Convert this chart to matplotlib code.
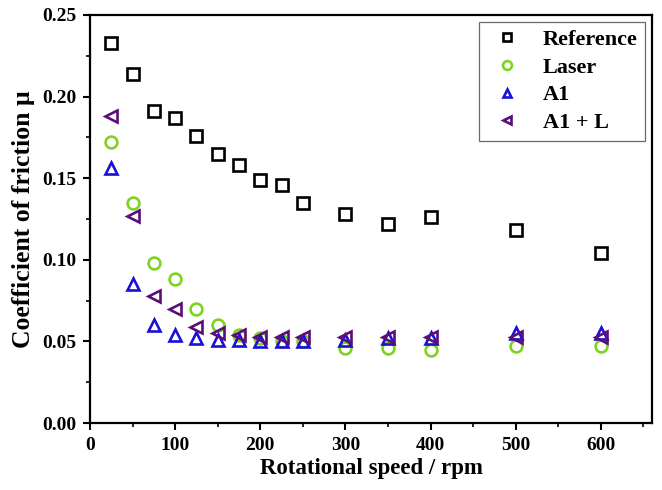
import matplotlib
matplotlib.use("Agg")
import matplotlib.pyplot as plt
from matplotlib.ticker import MultipleLocator, FormatStrFormatter

plt.rcParams['font.family'] = ['Liberation Serif', 'DejaVu Serif']
plt.rcParams['font.weight'] = 'bold'

speed = [25, 50, 75, 100, 125, 150, 175, 200, 225, 250, 300, 350, 400, 500, 600]
mu_reference = [0.233, 0.214, 0.191, 0.187, 0.176, 0.165, 0.158, 0.149, 0.146, 0.135,
                0.128, 0.122, 0.126, 0.118, 0.104]
mu_laser = [0.172, 0.135, 0.098, 0.088, 0.070, 0.060, 0.054, 0.052, 0.050, 0.050,
            0.046, 0.046, 0.045, 0.047, 0.047]
mu_a1 = [0.156, 0.085, 0.060, 0.054, 0.052, 0.051, 0.051, 0.050, 0.050, 0.050,
         0.051, 0.052, 0.052, 0.055, 0.055]
mu_a1l = [0.188, 0.127, 0.078, 0.070, 0.059, 0.055, 0.054, 0.053, 0.053, 0.053,
          0.053, 0.053, 0.053, 0.053, 0.053]

fig = plt.figure(figsize=(6.62, 4.90), dpi=100)
ax = fig.add_axes([90 / 662, (490 - 423) / 490, (652 - 90) / 662, (423 - 15) / 490])

style = dict(linestyle='none', markerfacecolor='none', markersize=8.5, markeredgewidth=1.9)
ax.plot(speed, mu_reference, marker='s', color='black', label='Reference', **style)
ax.plot(speed, mu_laser, marker='o', color='#7ed321', label='Laser', **style)
ax.plot(speed, mu_a1, marker='^', color='#1a10d8', label='A1', **style)
ax.plot(speed, mu_a1l, marker='<', color='#5c0e78', label='A1 + L', **style)

ax.set_xlim(0, 660)
ax.set_ylim(0, 0.25)
ax.xaxis.set_major_locator(MultipleLocator(100))
ax.xaxis.set_minor_locator(MultipleLocator(50))
ax.yaxis.set_major_locator(MultipleLocator(0.05))
ax.yaxis.set_minor_locator(MultipleLocator(0.025))
ax.yaxis.set_major_formatter(FormatStrFormatter('%.2f'))
ax.tick_params(which='major', direction='out', length=5, width=1.5, labelsize=14, pad=5)
ax.tick_params(which='minor', direction='out', length=3, width=1.2)
for s in ax.spines.values():
    s.set_linewidth(1.6)

ax.set_xlabel('Rotational speed / rpm', fontsize=16.5, fontweight='bold', labelpad=3)
ax.set_ylabel('Coefficient of friction μ', fontsize=18.5, fontweight='bold', labelpad=5)

leg = ax.legend(loc='upper right', fontsize=16, frameon=True, fancybox=False,
                edgecolor='#444444', borderpad=0.35, handletextpad=0.7,
                labelspacing=0.32, borderaxespad=0.3, handlelength=1.8,
                markerscale=0.75)
leg.get_frame().set_linewidth(0.9)
for t in leg.get_texts():
    t.set_fontweight('bold')

fig.savefig('out.png', dpi=100)
